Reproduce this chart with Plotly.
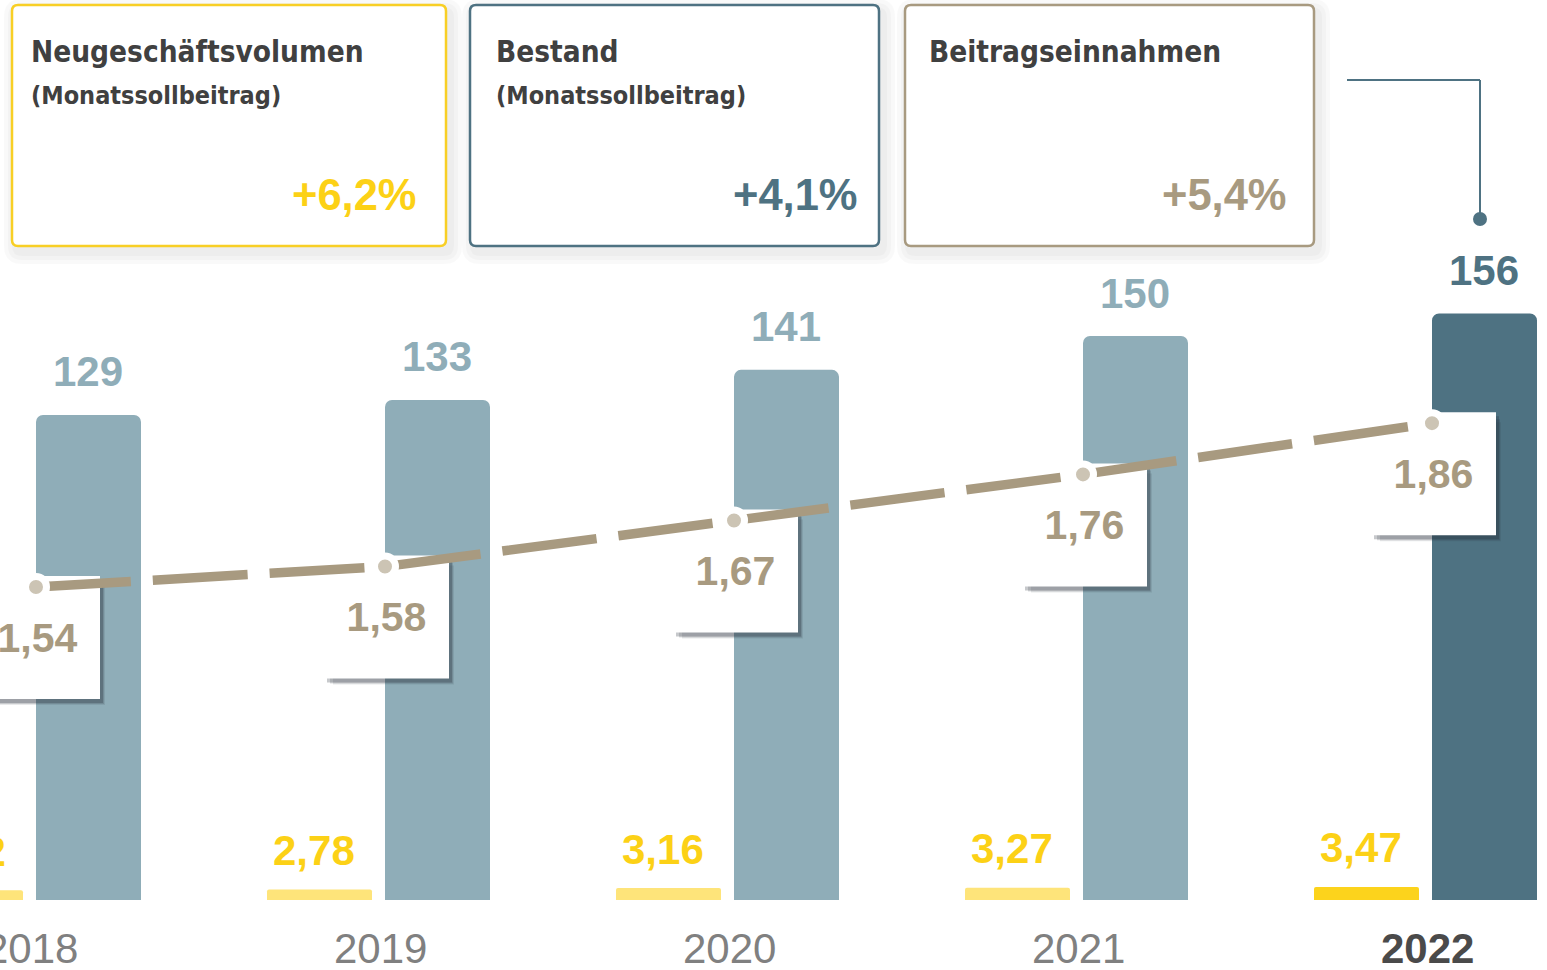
import plotly.graph_objects as go

# ---------------- data ----------------
years = [2018, 2019, 2020, 2021, 2022]
neugeschaeft = [2.62, 2.78, 3.16, 3.27, 3.47]
neugeschaeft_labels = ["2,62", "2,78", "3,16", "3,27", "3,47"]
bestand = [129, 133, 141, 150, 156]
bestand_labels = ["129", "133", "141", "150", "156"]
beitrag = [1.54, 1.58, 1.67, 1.76, 1.86]
beitrag_labels = ["1,54", "1,58", "1,67", "1,76", "1,86"]
year_labels = ["2018", "2019", "2020", "2021", "2022"]
kpi_titles = ["Neugeschäftsvolumen", "Bestand", "Beitragseinnahmen"]
kpi_subtitles = ["(Monatssollbeitrag)", "(Monatssollbeitrag)", ""]
kpi_changes = ["+6,2%", "+4,1%", "+5,4%"]

# ---------------- styles / geometry ----------------
W, H = 1547, 970
PXY = 349.0          # pixels per year on x axis
PX1 = 3.76           # pixels per unit on y (bars)
PX2 = 512.0          # pixels per unit on y2 (line)
COND = "DejaVu Sans Condensed, DejaVu Sans, sans-serif"
SANS = "Liberation Sans, Arial, Helvetica, sans-serif"

YEL_LIGHT, YEL = "#FEE47A", "#FCD31C"
YEL_TXT = "#FCD116"
BLUE_LIGHT, BLUE = "#8FADB8", "#4E7282"
BEIGE, BEIGE_DOT = "#A89A80", "#CCC4B4"
GREY_TXT, DARK_TXT = "#808080", "#4A4A4A"

yel_colors = [YEL_LIGHT] * 4 + [YEL]
blue_colors = [BLUE_LIGHT] * 4 + [BLUE]
bestand_txt_colors = [BLUE_LIGHT] * 4 + [BLUE]


def px(x):
    return x / W


def py(y):
    return 1 - y / H


fig = go.Figure()

# Neugeschäftsvolumen (small yellow bars)
fig.add_trace(go.Bar(
    x=years, y=neugeschaeft, width=105 / PXY, offset=-118 / PXY,
    marker=dict(color=yel_colors, cornerradius=2, line=dict(width=0)),
    hoverinfo="skip", yaxis="y"))

# Bestand (blue bars)
fig.add_trace(go.Bar(
    x=years, y=bestand, width=105 / PXY, offset=0,
    marker=dict(color=blue_colors, cornerradius=7, line=dict(width=0)),
    hoverinfo="skip", yaxis="y"))

# Label boxes for Beitragseinnahmen (soft shadows + white boxes) on y2
BOX_W, BOX_LEFT = 125, -61        # px
box_h = 123 / PX2
box_below = 112 / PX2
for dx, dy, shrink, col in [(7, 8, 2, "rgba(30,40,50,0.10)"),
                            (5, 6, 1, "rgba(30,40,50,0.16)"),
                            (3, 4, 0, "rgba(30,40,50,0.25)")]:
    fig.add_trace(go.Bar(
        x=years, y=[box_h - 2 * shrink / PX2] * len(years),
        base=[v - box_below - dy / PX2 + shrink / PX2 for v in beitrag],
        width=(BOX_W - 2 * shrink) / PXY, offset=(BOX_LEFT + dx + shrink) / PXY,
        marker=dict(color=col, line=dict(width=0)),
        hoverinfo="skip", yaxis="y2"))
fig.add_trace(go.Bar(
    x=years, y=[box_h] * len(years), base=[v - box_below for v in beitrag],
    width=BOX_W / PXY, offset=BOX_LEFT / PXY,
    marker=dict(color="white", line=dict(width=0)),
    text=beitrag_labels, textposition="inside", insidetextanchor="middle",
    textangle=0, constraintext="none",
    insidetextfont=dict(family=SANS, size=41, color=BEIGE, weight="bold"),
    hoverinfo="skip", yaxis="y2"))

# Beitragseinnahmen line
fig.add_trace(go.Scatter(
    x=years, y=beitrag, yaxis="y2", mode="lines+markers",
    line=dict(color=BEIGE, width=9.5, dash="95px,22px"),
    marker=dict(size=21, color=BEIGE_DOT, line=dict(color="white", width=7)),
    hoverinfo="skip"))

annotations = []
# Bestand value labels
for yr, v, t, c in zip(years, bestand, bestand_labels, bestand_txt_colors):
    annotations.append(dict(
        x=yr, y=v, xref="x", yref="y", text=t, showarrow=False,
        xshift=52, yshift=43, yanchor="middle", xanchor="center",
        font=dict(family=SANS, size=42, color=c, weight="bold")))
# Neugeschäft value labels
for yr, v, t in zip(years, neugeschaeft, neugeschaeft_labels):
    annotations.append(dict(
        x=yr, y=v, xref="x", yref="y", text=t, showarrow=False,
        xshift=-71, yshift=39, yanchor="middle", xanchor="center",
        font=dict(family=SANS, size=42, color=YEL_TXT, weight="bold")))
# Year labels
for i, (yr, t) in enumerate(zip(years, year_labels)):
    last = i == len(years) - 1
    annotations.append(dict(
        x=yr, y=py(948), xref="x", yref="paper", text=t, showarrow=False,
        xshift=-5, yanchor="middle", xanchor="center",
        font=dict(family=SANS, size=42, color=DARK_TXT if last else GREY_TXT,
                  weight="bold" if last else "normal")))

# ---------------- KPI cards ----------------
cards = [  # x0, x1, y0, y1, border colour, title x, percent right x, percent colour
    (12, 446, 5, 246, "#F8CF25", 29, 419, YEL_TXT),
    (470, 879, 5, 246, BLUE, 494, 860, BLUE),
    (905, 1314, 5, 246, BEIGE, 927, 1289, BEIGE),
]


def rrect(x0, y0, x1, y1, r):
    X0, X1 = px(x0), px(x1)
    Y0, Y1 = py(y0), py(y1)
    rx, ry = r / W, r / H
    return (f"M {X0 + rx},{Y0} L {X1 - rx},{Y0} Q {X1},{Y0} {X1},{Y0 - ry} "
            f"L {X1},{Y1 + ry} Q {X1},{Y1} {X1 - rx},{Y1} "
            f"L {X0 + rx},{Y1} Q {X0},{Y1} {X0},{Y1 + ry} "
            f"L {X0},{Y0 - ry} Q {X0},{Y0} {X0 + rx},{Y0} Z")


shapes = []
for (x0, x1, y0, y1, col, tx, pxr, pcol), title, sub, chg in zip(cards, kpi_titles, kpi_subtitles, kpi_changes):
    for k in (12, 8, 4):
        shapes.append(dict(type="path", path=rrect(x0 - k + 4, y0 - k + 6, x1 + k + 4, y1 + k + 6, 6 + k),
                           xref="paper", yref="paper", fillcolor="rgba(0,0,0,0.022)",
                           line=dict(width=0), layer="below"))
    shapes.append(dict(type="path", path=rrect(x0, y0, x1, y1, 6), xref="paper", yref="paper",
                       fillcolor="white", line=dict(color=col, width=2.5), layer="below"))
    annotations.append(dict(x=px(tx), y=py(52), xref="paper", yref="paper", text=title,
                            showarrow=False, xanchor="left", yanchor="middle",
                            font=dict(family=COND, size=29.5, color="#404040", weight="bold")))
    if sub:
        annotations.append(dict(x=px(tx), y=py(96), xref="paper", yref="paper", text=sub,
                                showarrow=False, xanchor="left", yanchor="middle",
                                font=dict(family=COND, size=25, color="#404040", weight="bold")))
    annotations.append(dict(x=px(pxr), y=py(195), xref="paper", yref="paper", text=chg,
                            showarrow=False, xanchor="right", yanchor="middle",
                            font=dict(family=SANS, size=43.5, color=pcol, weight="bold")))

# connector to 2022
shapes.append(dict(type="line", xref="paper", yref="paper", x0=px(1347), y0=py(80), x1=px(1480), y1=py(80),
                   line=dict(color=BLUE, width=2)))
shapes.append(dict(type="line", xref="paper", yref="paper", x0=px(1480), y0=py(80), x1=px(1480), y1=py(219),
                   line=dict(color=BLUE, width=2)))
shapes.append(dict(type="circle", xref="paper", yref="paper", x0=px(1473), y0=py(212), x1=px(1487), y1=py(226),
                   fillcolor=BLUE, line=dict(width=0)))

fig.update_layout(
    width=W, height=H, margin=dict(l=0, r=0, t=0, b=0),
    paper_bgcolor="white", plot_bgcolor="white",
    barmode="overlay", showlegend=False,
    xaxis=dict(range=[2018 - 36 / PXY, 2018 + (W - 36) / PXY], visible=False, fixedrange=True),
    yaxis=dict(range=[-70 / PX1, 900 / PX1], visible=False, fixedrange=True),
    yaxis2=dict(range=[0.792, 2.6865], overlaying="y", visible=False, fixedrange=True),
    shapes=shapes, annotations=annotations,
)

fig.write_html(
    "out.html",
    config={"displayModeBar": False},
    post_script="document.body.style.margin='0';document.body.style.overflow='hidden';",
)
